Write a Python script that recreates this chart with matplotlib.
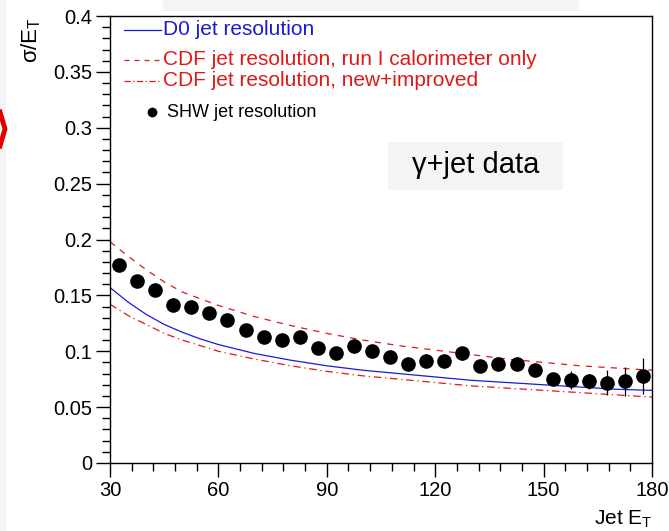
import matplotlib
matplotlib.use("Agg")
import matplotlib.pyplot as plt
from matplotlib.patches import Rectangle
from matplotlib.lines import Line2D

plt.rcParams['font.family'] = ['Liberation Sans', 'DejaVu Sans']
plt.rcParams['mathtext.fontset'] = 'custom'
plt.rcParams['mathtext.rm'] = 'Liberation Sans'
plt.rcParams['mathtext.it'] = 'Liberation Sans'

# SHW gamma+jet points
et = [32.5, 37.5, 42.5, 47.5, 52.5, 57.5, 62.5, 67.5, 72.5, 77.5,
      82.5, 87.5, 92.5, 97.5, 102.5, 107.5, 112.5, 117.5, 122.5, 127.5,
      132.5, 137.5, 142.5, 147.5, 152.5, 157.5, 162.5, 167.5, 172.5, 177.5]
res = [0.177, 0.163, 0.155, 0.141, 0.140, 0.134, 0.128, 0.119, 0.113, 0.110,
       0.113, 0.103, 0.098, 0.105, 0.100, 0.095, 0.089, 0.091, 0.091, 0.098,
       0.087, 0.089, 0.089, 0.083, 0.075, 0.0745, 0.073, 0.072, 0.073, 0.078]
err = [0.003, 0.003, 0.003, 0.003, 0.003, 0.003, 0.003, 0.003, 0.003, 0.003,
       0.003, 0.003, 0.003, 0.003, 0.003, 0.003, 0.004, 0.004, 0.004, 0.006,
       0.004, 0.004, 0.006, 0.005, 0.005, 0.008, 0.007, 0.011, 0.013, 0.016]

# resolution curves
curve_et = [30, 35, 40, 45, 50, 55, 60, 70, 80, 90, 100, 110, 120, 130, 140, 150, 160, 170, 180]
d0 = [0.157, 0.144, 0.133, 0.124, 0.117, 0.111, 0.106, 0.098, 0.092, 0.087, 0.083, 0.080,
      0.077, 0.074, 0.072, 0.070, 0.068, 0.066, 0.065]
cdf_run1 = [0.198, 0.185, 0.173, 0.162, 0.153, 0.147, 0.141, 0.131, 0.123, 0.116, 0.110, 0.105,
            0.101, 0.097, 0.093, 0.090, 0.087, 0.085, 0.083]
cdf_new = [0.142, 0.132, 0.124, 0.116, 0.110, 0.105, 0.100, 0.093, 0.087, 0.082, 0.078, 0.075,
           0.072, 0.069, 0.067, 0.065, 0.063, 0.061, 0.059]

blue = '#1a1ad6'
red = '#e01818'

fig = plt.figure(figsize=(6.69, 5.31), dpi=100)
fig.patch.set_facecolor('white')

# slide decorations
fig.patches.append(Rectangle((0, 0), 6 / 669, 1, transform=fig.transFigure,
                             facecolor='#f4f4f4', edgecolor='none', zorder=0))
fig.patches.append(Rectangle((163 / 669, 1 - 11 / 531), 416 / 669, 11 / 531,
                             transform=fig.transFigure, facecolor='#f4f4f4',
                             edgecolor='none', zorder=0))
fig.add_artist(Line2D([0, 5 / 669, 0], [1 - 112 / 531, 1 - 129 / 531, 1 - 146 / 531],
                      transform=fig.transFigure, color='#dd0000', lw=3.5))

ax = fig.add_axes([110 / 669, 1 - 463 / 531, 542 / 669, 447 / 531])
ax.set_facecolor('none')

ax.plot(curve_et, d0, color=blue, lw=0.9)
ax.plot(curve_et, cdf_run1, color=red, lw=0.9, dashes=(5, 5))
ax.plot(curve_et, cdf_new, color=red, lw=0.9, dashes=(6, 3, 1, 3))
ax.errorbar(et, res, yerr=err, fmt='o', color='black', ms=9.5, elinewidth=0.9,
            capsize=0, zorder=5)

ax.set_xlim(30, 180)
ax.set_ylim(0, 0.4)
ax.set_xticks([30, 60, 90, 120, 150, 180])
ax.set_xticks(range(30, 181, 6), minor=True)
ax.set_yticks([0, 0.05, 0.1, 0.15, 0.2, 0.25, 0.3, 0.35, 0.4])
ax.set_yticklabels(['0', '0.05', '0.1', '0.15', '0.2', '0.25', '0.3', '0.35', '0.4'])
ax.set_yticks([i / 100 for i in range(41)], minor=True)
ax.tick_params(which='major', direction='out', length=10, width=1, labelsize=14.5, pad=3)
ax.tick_params(which='minor', direction='out', length=6, width=1)
for s in ax.spines.values():
    s.set_linewidth(1)

fig.text(31 / 669, 1 - 17 / 531, r'$\sigma$/E$_\mathrm{T}$', rotation=90, fontsize=16,
         ha='center', va='top')
fig.text(652 / 669, 1 - 519 / 531, r'Jet E$_\mathrm{T}$', fontsize=15, ha='right',
         va='center')

# legend
rows = [(0.969, 'D0 jet resolution', blue, {}),
        (0.902, 'CDF jet resolution, run I calorimeter only', red, {'dashes': (4, 4)}),
        (0.855, 'CDF jet resolution, new+improved', red, {'dashes': (5, 2, 1, 2)})]
for y, label, col, style in rows:
    ax.add_line(Line2D([0.026, 0.094], [y, y], transform=ax.transAxes, color=col,
                       lw=0.9, **style))
    ax.text(0.098, y, label, color=col, fontsize=15, va='center', transform=ax.transAxes)
ax.plot([0.0775], [0.785], 'o', color='black', ms=6, transform=ax.transAxes)
ax.text(0.105, 0.785, 'SHW jet resolution', color='black', fontsize=13, va='center',
        transform=ax.transAxes)

# gamma+jet label box
fig.patches.append(Rectangle((388 / 669, 1 - 190 / 531), 175 / 669, 48 / 531,
                             transform=fig.transFigure, facecolor='#f4f4f4',
                             edgecolor='none', zorder=0))
fig.text(476 / 669, 1 - 165 / 531, '\u03b3+jet data', fontsize=21, ha='center',
         va='center')

fig.savefig('out.png', dpi=100)
